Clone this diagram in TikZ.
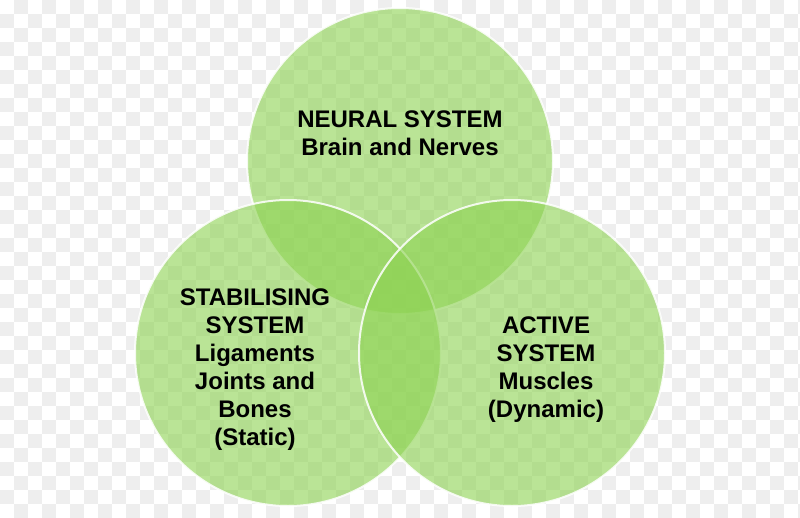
\documentclass[tikz,border=0pt]{standalone}
\usepackage{fontspec}
\setmainfont{Liberation Sans}
\definecolor{chk}{RGB}{238,238,238}
\definecolor{venn}{RGB}{140,210,80}
\tikzset{
  venncirc/.style={fill=venn, fill opacity=0.6, draw=white, draw opacity=0.85, line width=2pt},
  lbl/.style={align=center, font=\bfseries\fontsize{24}{28}\selectfont, text=black, inner sep=0pt}
}
\begin{document}
\begin{tikzpicture}[x=1pt,y=-1pt]
\useasboundingbox (0,0) rectangle (800,517);
\fill[white] (0,0) rectangle (800,517);
% transparency checkerboard
\foreach \i in {0,...,57}{
  \foreach \j in {0,...,37}{
    \pgfmathtruncatemacro{\chkpar}{mod(\i+\j,2)}
    \ifnum\chkpar=1
      \fill[chk] (\i*14,\j*14) rectangle ++(14,14);
    \fi
  }
}
\begin{scope}
\clip (0,0) rectangle (800,517);
\node[venncirc, circle, minimum size=306pt, inner sep=0pt] (neural) at (400,161) {};
\node[venncirc, circle, minimum size=306pt, inner sep=0pt] (stab) at (288,353) {};
\node[venncirc, circle, minimum size=306pt, inner sep=0pt] (active) at (512,353) {};
\end{scope}
\node[lbl] (tneural) at (400,133) {NEURAL SYSTEM\\Brain and Nerves};
\node[lbl] (tstab) at (255,370) {STABILISING\\SYSTEM\\Ligaments\\Joints and\\Bones\\(Static)};
\node[lbl] (tactive) at (546,370) {ACTIVE\\SYSTEM\\Muscles\\(Dynamic)};
\end{tikzpicture}
\end{document}
